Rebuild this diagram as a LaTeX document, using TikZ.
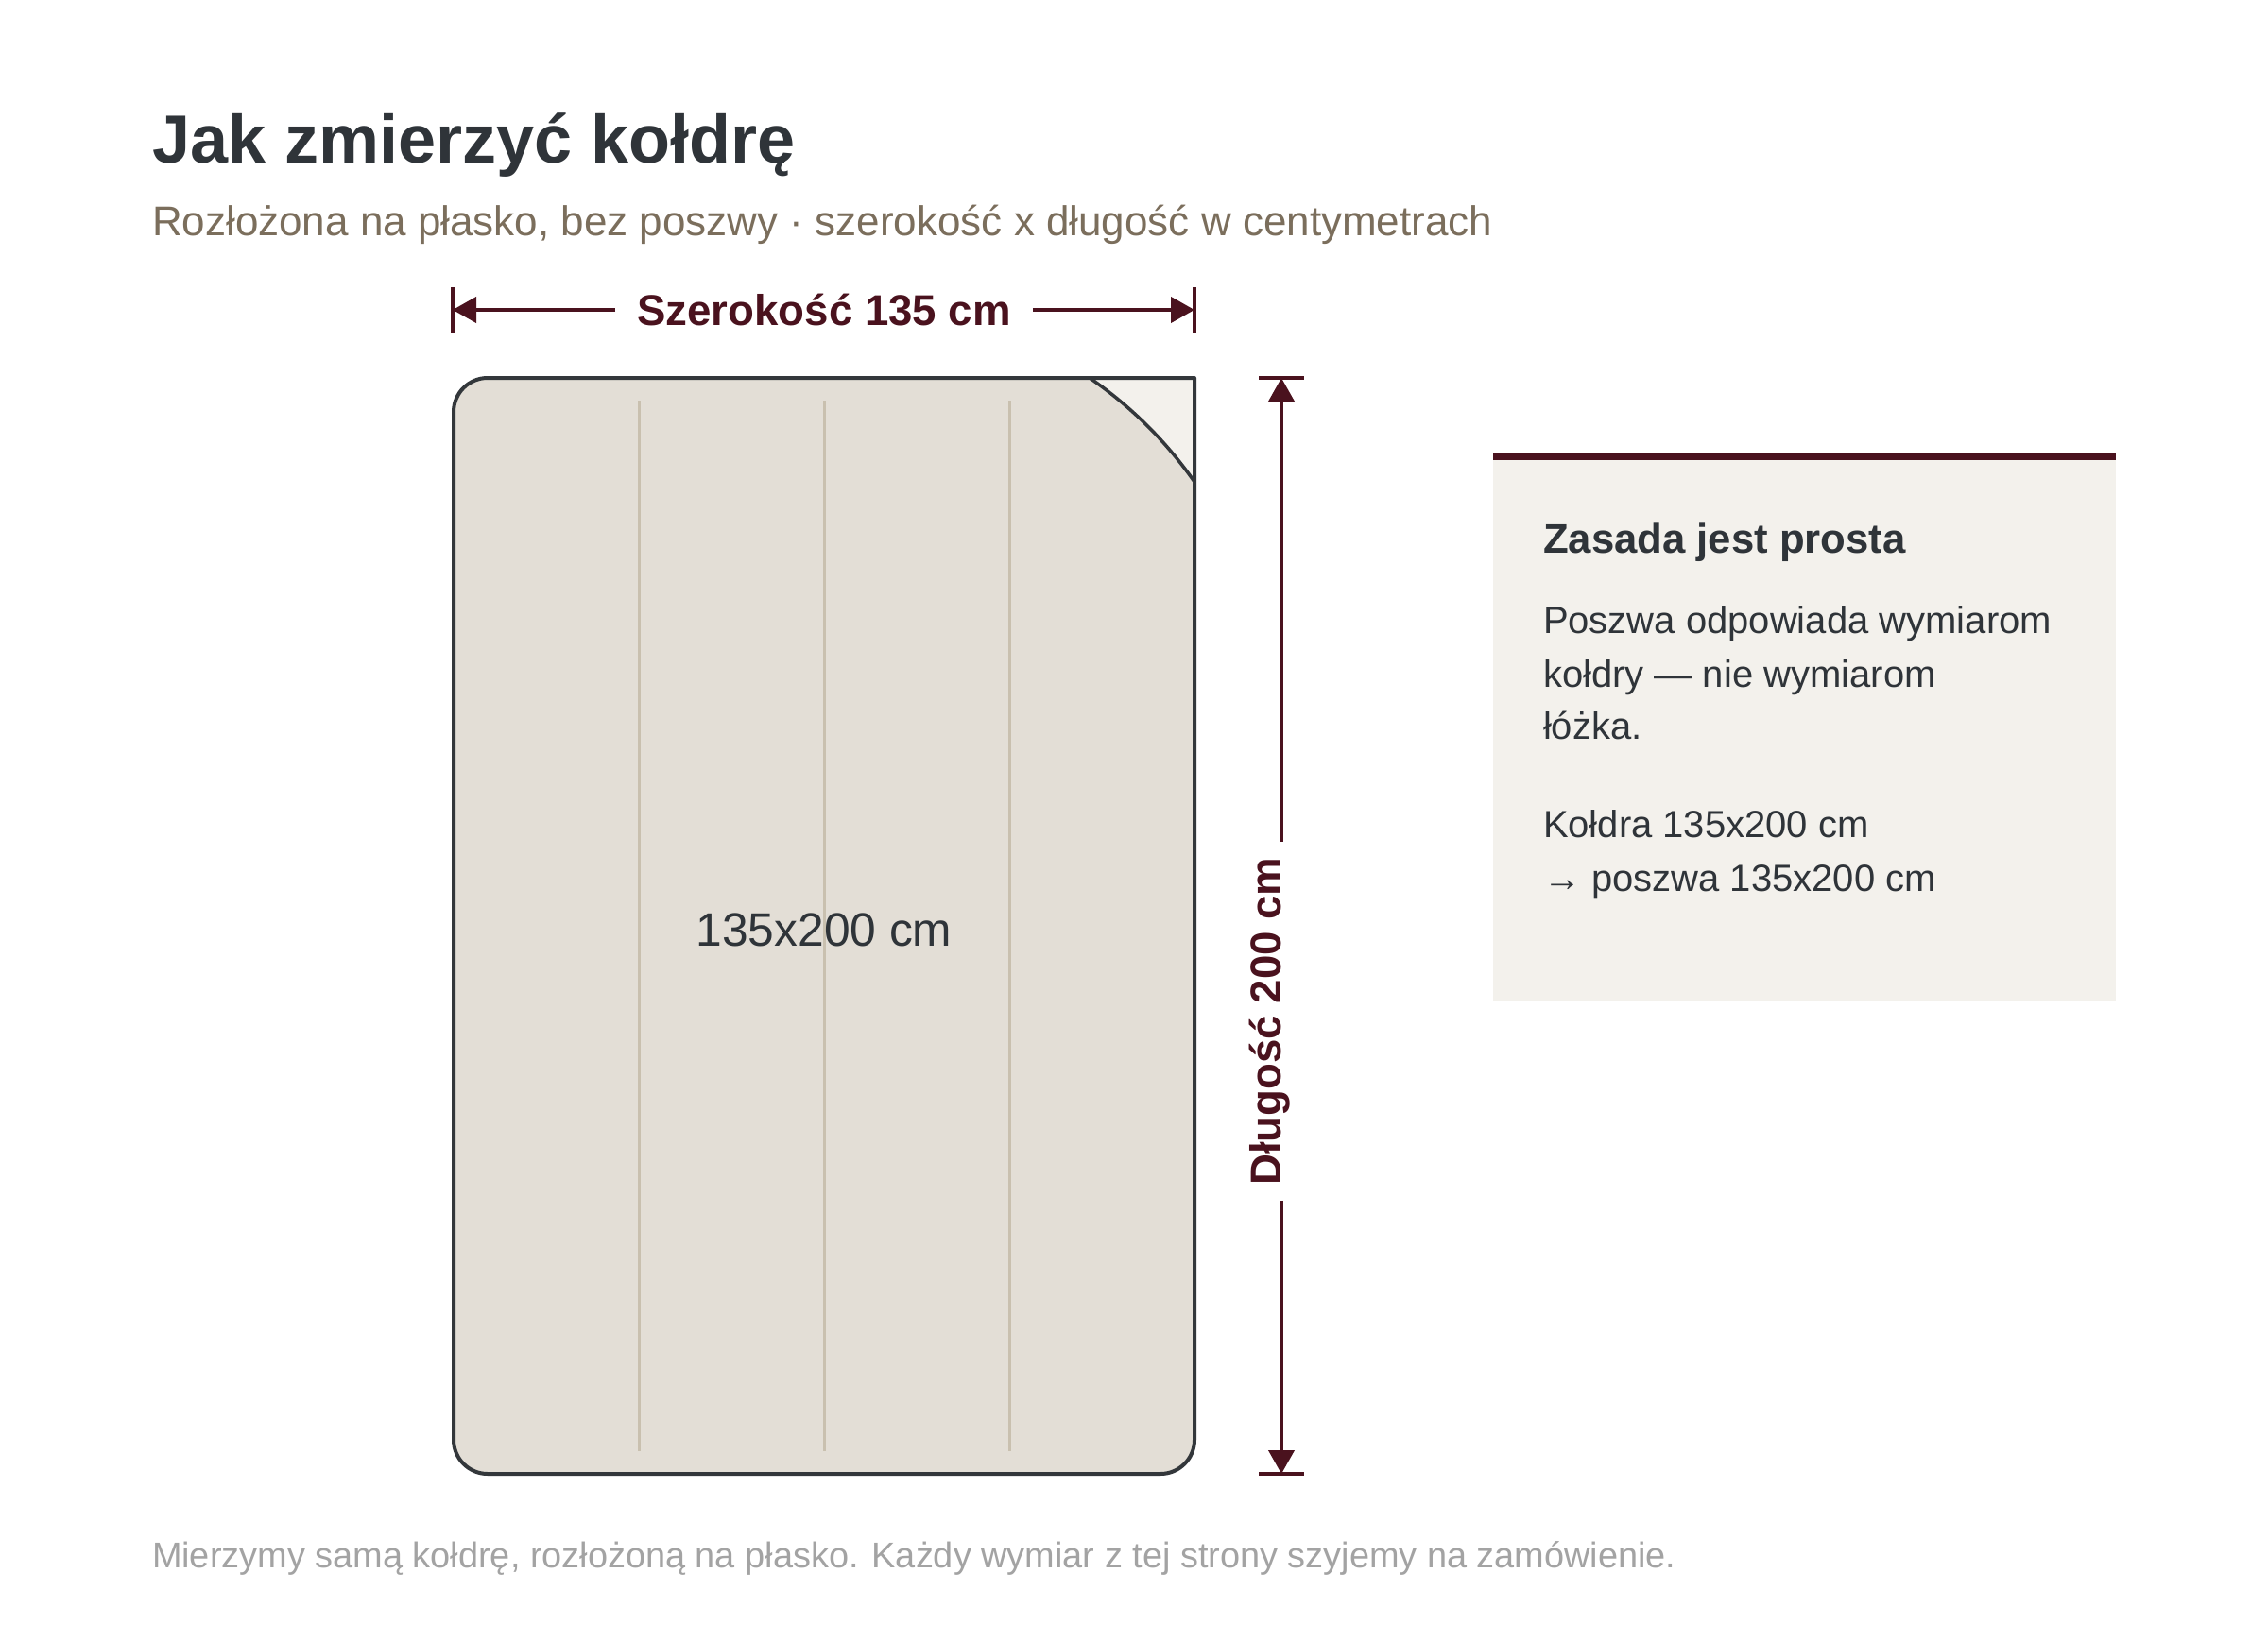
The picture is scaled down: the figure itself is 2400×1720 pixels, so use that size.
\documentclass[tikz,border=0pt]{standalone}
\usepackage{fontspec}
\setmainfont{Liberation Sans}
\usetikzlibrary{arrows.meta}
\definecolor{ink}{HTML}{2F3439}
\definecolor{maroon}{HTML}{4A121E}
\definecolor{subc}{HTML}{7B6E5C}
\definecolor{footc}{HTML}{A3A3A3}
\definecolor{quiltc}{HTML}{E3DED6}
\definecolor{paperc}{HTML}{F3F1EC}
\definecolor{stitchc}{HTML}{C9C0AF}
\definecolor{edgec}{HTML}{33373B}
\tikzset{
  txt/.style={anchor=base west, inner sep=0pt, outer sep=0pt},
  dimline/.style={draw=maroon, line width=4pt},
  dimtick/.style={draw=maroon, line width=3.5pt},
  dimtip/.style={-{Triangle[length=25pt,width=27pt]}},
  dimlabel/.style={font=\fontsize{45.6}{50}\selectfont\bfseries, text=maroon, anchor=base},
  stitchline/.style={draw=stitchc, line width=3pt},
  bodytxt/.style={txt, font=\fontsize{40}{56}\selectfont, text=ink},
}
\begin{document}
\begin{tikzpicture}[x=1pt,y=-1pt]
\useasboundingbox[fill=white] (0,0) rectangle (2400,1720);

% title
\node[txt, font=\fontsize{72}{86}\selectfont\bfseries, text=ink] (title) at (161,173) {Jak zmierzyć kołdrę};
\node[txt, font=\fontsize{44}{52}\selectfont, text=subc] (subtitle) at (161,250) {Rozłożona na płasko, bez poszwy · szerokość x długość w centymetrach};

% quilt body
\fill[quiltc] (480,436) .. controls (480,416.1) and (496.1,400) .. (516,400) -- (1153,400)
  .. controls (1196.6,430) and (1233.6,466.7) .. (1264,510) -- (1264,1524)
  .. controls (1264,1543.9) and (1247.9,1560) .. (1228,1560) -- (516,1560)
  .. controls (496.1,1560) and (480,1543.9) .. (480,1524) -- cycle;
% folded corner
\fill[paperc] (1153,400) -- (1264,400) -- (1264,510)
  .. controls (1233.6,466.7) and (1196.6,430) .. (1153,400) -- cycle;
% stitches
\draw[stitchline] (676,424) -- (676,1536);
\draw[stitchline] (872,424) -- (872,1536);
\draw[stitchline] (1068,424) -- (1068,1536);
% fold curve
\draw[edgec, line width=3.5pt] (1153,400) .. controls (1196.6,430) and (1233.6,466.7) .. (1264,510);
% outline
\draw[edgec, line width=4pt, line join=round] (480,436) .. controls (480,416.1) and (496.1,400) .. (516,400) -- (1264,400) -- (1264,1524)
  .. controls (1264,1543.9) and (1247.9,1560) .. (1228,1560) -- (516,1560)
  .. controls (496.1,1560) and (480,1543.9) .. (480,1524) -- cycle;

\node[anchor=base, inner sep=0pt, font=\fontsize{49.7}{56}\selectfont, text=ink] (size) at (872,1001) {135x200 cm};

% width dimension
\coordinate (wL) at (479,328);
\coordinate (wR) at (1264,328);
\draw[dimtick] (479,304) -- (479,352);
\draw[dimtick] (1264,304) -- (1264,352);
\node[dimlabel, inner xsep=23pt, inner ysep=0pt] (wlab) at (872,344) {Szerokość 135 cm};
\draw[dimline, dimtip] (wlab.west |- wL) -- (wL);
\draw[dimline, dimtip] (wlab.east |- wR) -- (wR);

% length dimension
\coordinate (lT) at (1356,400);
\coordinate (lB) at (1356,1560);
\draw[dimtick] (1332,400) -- (1380,400);
\draw[dimtick] (1332,1560) -- (1380,1560);
\node[dimlabel, rotate=90, inner xsep=16pt, inner ysep=0pt] (llab) at (1355,1081) {Długość 200 cm};
\draw[dimline, dimtip] (lT |- llab.east) -- (lT);
\draw[dimline, dimtip] (lB |- llab.west) -- (lB);

% info box
\fill[paperc] (1580,480) rectangle (2239,1059);
\fill[maroon] (1580,480) rectangle (2239,487);
\node[txt, font=\fontsize{43.7}{52}\selectfont\bfseries, text=ink] (boxtitle) at (1633,585) {Zasada jest prosta};
\node[bodytxt] (b1) at (1633,670) {Poszwa odpowiada wymiarom};
\node[bodytxt] (b2) at (1633,727) {kołdry — nie wymiarom};
\node[bodytxt] (b3) at (1633,782) {łóżka.};
\node[bodytxt] (b4) at (1633,886) {Kołdra 135x200 cm};
\node[bodytxt] (b5) at (1633,943) {→ poszwa 135x200 cm};

% footer
\node[txt, font=\fontsize{37.9}{45}\selectfont, text=footc] (footer) at (161,1659) {Mierzymy samą kołdrę, rozłożoną na płasko. Każdy wymiar z tej strony szyjemy na zamówienie.};
\end{tikzpicture}
\end{document}
